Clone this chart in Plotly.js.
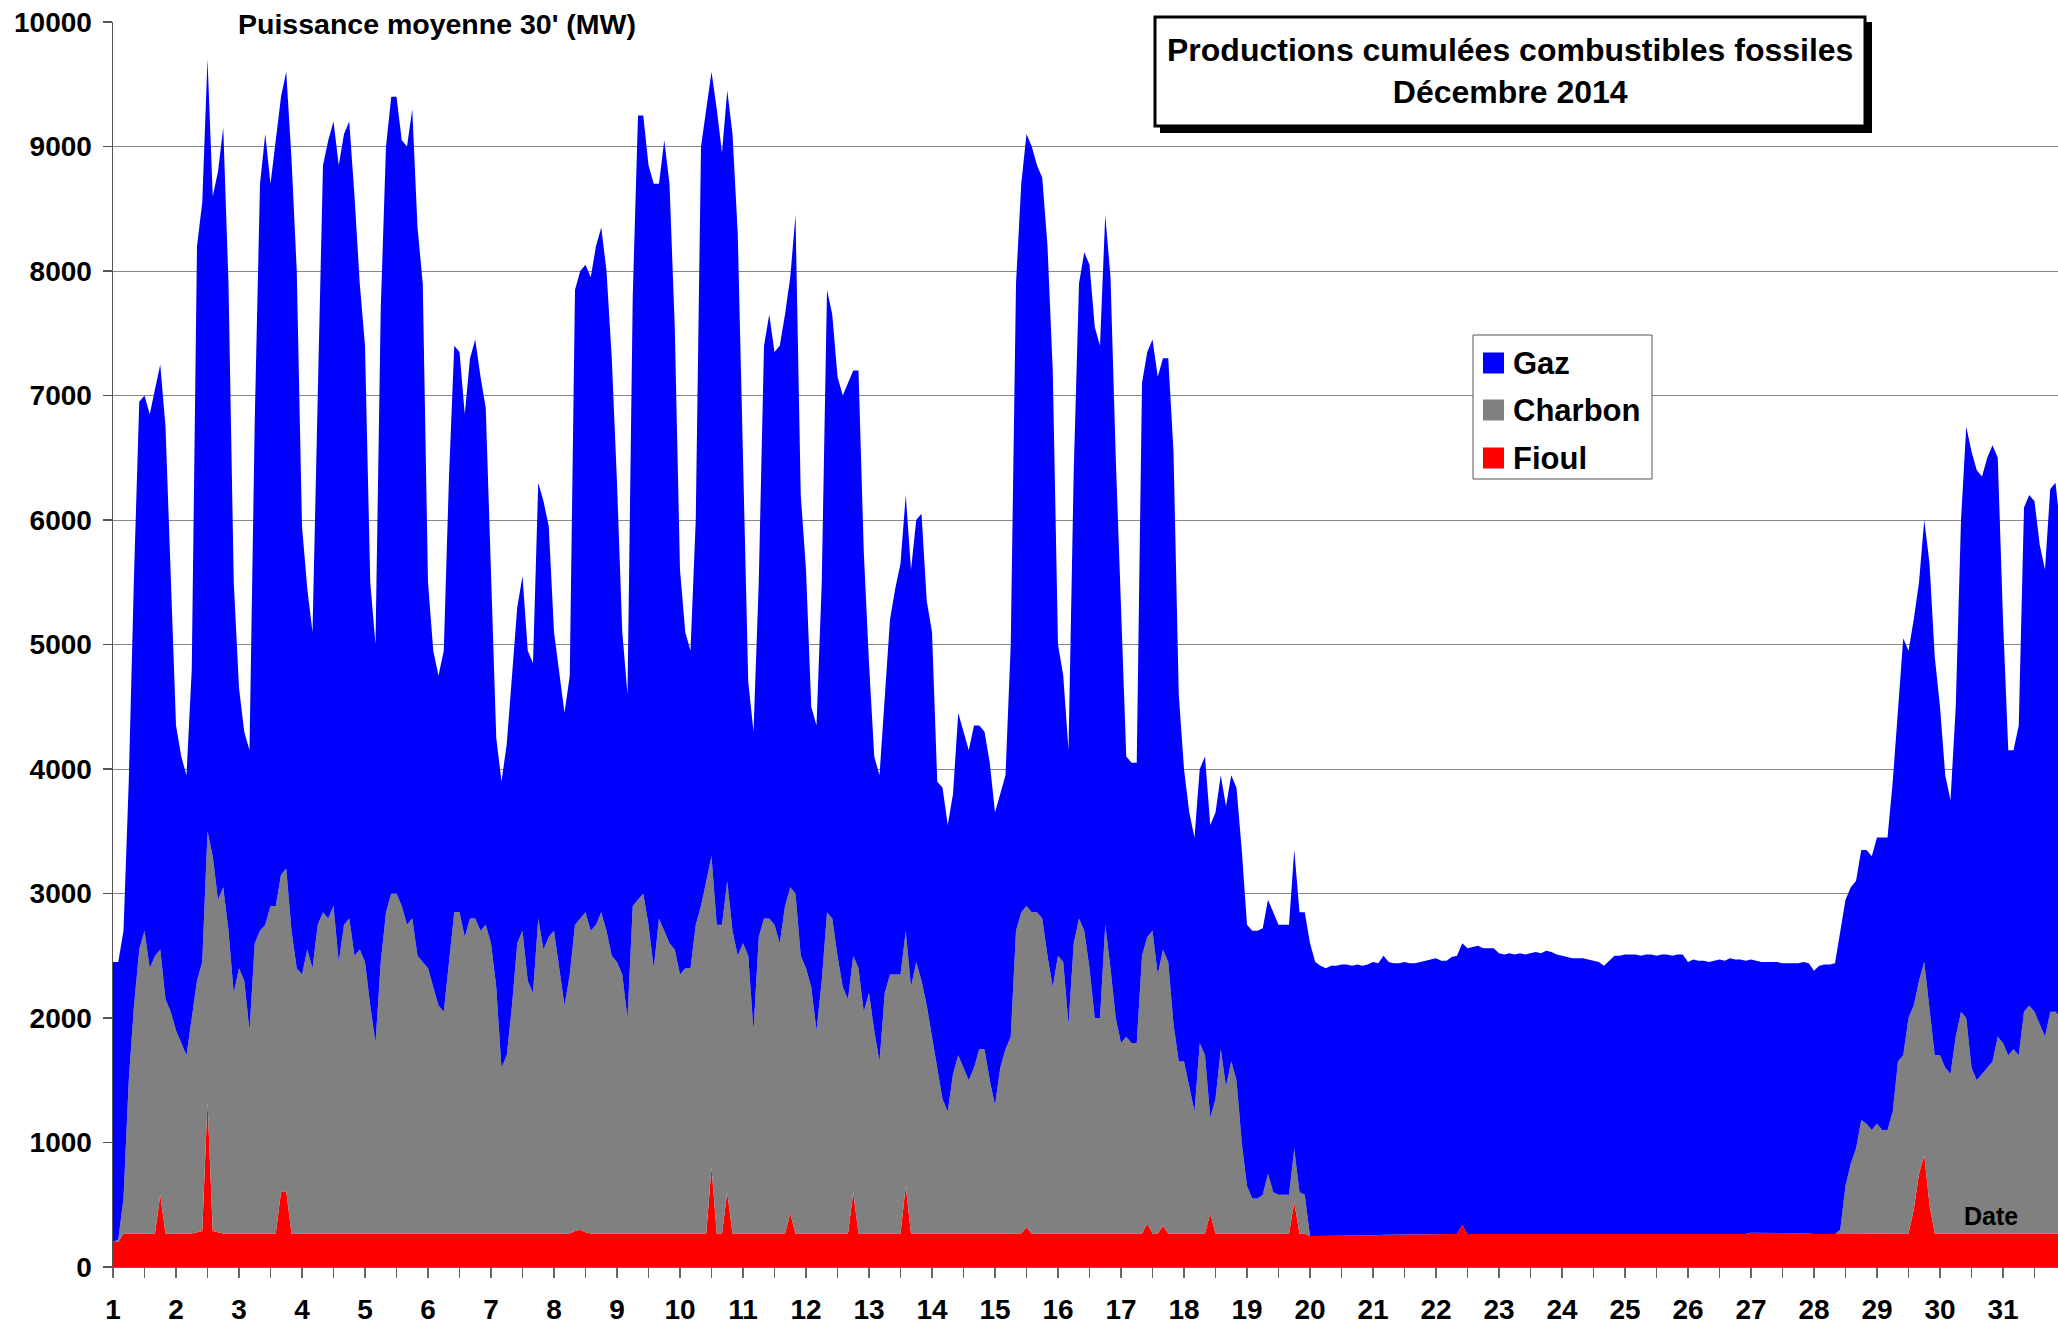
<!DOCTYPE html>
<html>
<head>
<meta charset="utf-8">
<script src="https://cdn.plot.ly/plotly-3.0.1.min.js"></script>
<style>html,body{margin:0;padding:0;background:#fff;}#chart{width:2058px;height:1326px;}</style>
</head>
<body>
<div id="chart"></div>
<script>
// Libellés des jours (axe des abscisses)
const jours = ['1','2','3','4','5','6','7','8','9','10','11','12','13','14','15','16','17','18','19','20','21','22','23','24','25','26','27','28','29','30','31'];
const pasHeures = 2; // une valeur toutes les 2 heures

// Niveau cumulé : Fioul + Charbon + Gaz (MW)
const cumulTotal = [
 2450,2450,2700,3900,5550,6950,7000,6850,7050,7250,6750,5500,
 4350,4100,3950,4800,8200,8550,9700,8600,8800,9150,7900,5500,
 4650,4300,4150,6800,8700,9100,8700,9050,9400,9600,8900,8000,
 5950,5450,5100,7000,8850,9050,9200,8850,9100,9200,8600,7900,
 7400,5500,5000,7700,9000,9400,9400,9050,9000,9300,8350,7900,
 5500,4950,4750,4950,6350,7400,7350,6850,7300,7450,7150,6900,
 5600,4250,3900,4200,4750,5300,5550,4950,4850,6300,6150,5950,
 5100,4750,4450,4750,7850,8000,8050,7950,8200,8350,8000,7300,
 6300,5100,4600,7800,9250,9250,8850,8700,8700,9050,8700,7550,
 5600,5100,4950,6000,9000,9300,9600,9300,8950,9450,9100,8300,
 6500,4700,4300,5500,7400,7650,7350,7400,7650,7950,8450,6200,
 5600,4500,4350,5500,7850,7650,7150,7000,7100,7200,7200,5750,
 4850,4100,3950,4550,5200,5450,5650,6200,5600,6000,6050,5350,
 5100,3900,3850,3550,3800,4450,4300,4150,4350,4350,4300,4050,
 3650,3800,3950,5000,7900,8700,9100,9000,8850,8750,8200,7200,
 5000,4750,4150,6400,7900,8150,8050,7550,7400,8450,7950,6500,
 5300,4100,4050,4050,7100,7350,7450,7150,7300,7300,6550,4600,
 4000,3650,3450,4000,4100,3550,3650,3950,3700,3950,3850,3350,
 2750,2700,2700,2720,2950,2850,2750,2750,2750,3350,2850,2850,
 2600,2450,2420,2400,2420,2420,2430,2430,2420,2430,2420,2430,
 2450,2440,2500,2450,2440,2440,2450,2440,2440,2450,2460,2470,
 2480,2460,2460,2490,2500,2600,2560,2570,2580,2560,2560,2560,
 2520,2510,2520,2510,2520,2510,2520,2530,2520,2540,2530,2510,
 2500,2490,2480,2480,2480,2470,2460,2450,2420,2460,2500,2500,
 2510,2510,2510,2500,2510,2510,2500,2510,2510,2500,2510,2510,
 2450,2470,2460,2460,2450,2460,2470,2460,2480,2470,2470,2460,
 2470,2460,2450,2450,2450,2450,2440,2440,2440,2440,2450,2440,
 2380,2420,2430,2430,2440,2700,2950,3050,3100,3350,3350,3300,
 3450,3450,3450,3900,4500,5050,4950,5200,5500,6000,5650,4900,
 4500,3950,3750,4500,6000,6750,6550,6400,6350,6500,6600,6500,
 5200,4150,4150,4350,6100,6200,6150,5800,5600,6250,6300,5900
];

// Niveau cumulé : Fioul + Charbon (MW)
const cumulCharbon = [
 200,220,550,1500,2100,2550,2700,2400,2500,2550,2150,2050,
 1900,1800,1700,2000,2300,2450,3500,3300,2950,3050,2700,2200,
 2400,2300,1900,2600,2700,2750,2900,2900,3150,3200,2700,2400,
 2350,2550,2400,2750,2850,2800,2900,2450,2750,2800,2500,2550,
 2450,2100,1800,2450,2850,3000,3000,2900,2750,2800,2500,2450,
 2400,2250,2100,2050,2450,2850,2850,2650,2800,2800,2700,2750,
 2600,2250,1600,1700,2100,2600,2700,2300,2200,2800,2550,2650,
 2700,2400,2100,2350,2750,2800,2850,2700,2750,2850,2700,2500,
 2450,2350,2000,2900,2950,3000,2750,2400,2800,2700,2600,2550,
 2350,2400,2400,2750,2900,3100,3300,2750,2750,3100,2700,2500,
 2600,2500,1900,2650,2800,2800,2750,2600,2900,3050,3000,2500,
 2400,2250,1900,2300,2850,2800,2500,2250,2150,2500,2400,2050,
 2200,1900,1650,2200,2350,2350,2350,2700,2250,2450,2300,2100,
 1850,1600,1350,1250,1550,1700,1600,1500,1600,1750,1750,1500,
 1300,1600,1750,1850,2700,2850,2900,2850,2850,2800,2500,2250,
 2500,2450,1950,2600,2800,2700,2400,2000,2000,2750,2400,2000,
 1800,1850,1800,1800,2500,2650,2700,2350,2550,2450,1950,1650,
 1650,1450,1250,1800,1700,1200,1350,1750,1450,1650,1500,1000,
 650,550,550,580,750,600,580,580,580,950,600,580,
 250,250,250,250,250,250,250,250,250,250,250,250,
 255,255,260,260,260,260,260,265,265,265,265,265,
 265,265,265,265,265,340,265,265,265,265,265,265,
 265,265,265,265,265,265,265,265,265,265,265,265,
 265,265,265,265,265,265,265,265,265,265,265,265,
 265,265,265,265,265,265,265,265,265,265,265,265,
 265,265,265,265,265,265,265,265,265,265,265,265,
 275,275,275,275,275,275,275,275,275,275,270,270,
 265,265,265,265,265,300,650,830,950,1180,1150,1100,
 1150,1100,1100,1250,1650,1700,2000,2100,2300,2450,2100,1700,
 1700,1600,1550,1850,2050,2000,1600,1500,1550,1600,1650,1850,
 1800,1700,1750,1700,2050,2100,2050,1950,1850,2050,2050,2000
];

// Fioul (MW)
const fioul = [
 200,200,270,270,270,270,270,270,270,580,270,270,
 270,270,270,270,280,290,1330,290,280,270,270,270,
 270,270,270,270,270,270,270,270,600,610,270,270,
 270,270,270,270,270,270,270,270,270,270,270,270,
 270,270,270,270,270,270,270,270,270,270,270,270,
 270,270,270,270,270,270,270,270,270,270,270,270,
 270,270,270,270,270,270,270,270,270,270,270,270,
 270,270,270,270,290,300,280,270,270,270,270,270,
 270,270,270,270,270,270,270,270,270,270,270,270,
 270,270,270,270,270,270,800,270,270,600,270,270,
 270,270,270,270,270,270,270,270,270,430,270,270,
 270,270,270,270,270,270,270,270,270,600,270,270,
 270,270,270,270,270,270,270,650,270,270,270,270,
 270,270,270,270,270,270,270,270,270,270,270,270,
 270,270,270,270,270,270,320,270,270,270,270,270,
 270,270,270,270,270,270,270,270,270,270,270,270,
 270,270,270,270,270,350,270,270,330,270,270,270,
 270,270,270,270,270,430,270,270,270,270,270,270,
 270,270,270,270,270,270,270,270,270,520,270,270,
 250,250,250,250,250,250,250,250,250,250,250,250,
 255,255,260,260,260,260,260,265,265,265,265,265,
 265,265,265,265,265,340,265,265,265,265,265,265,
 265,265,265,265,265,265,265,265,265,265,265,265,
 265,265,265,265,265,265,265,265,265,265,265,265,
 265,265,265,265,265,265,265,265,265,265,265,265,
 265,265,265,265,265,265,265,265,265,265,265,265,
 275,275,275,275,275,275,275,275,275,275,270,270,
 265,265,265,265,265,265,265,265,265,265,265,265,
 270,270,270,270,270,270,270,460,750,900,500,270,
 270,270,270,270,270,270,270,270,270,270,270,270,
 270,270,270,270,270,270,270,270,270,270,270,270
];

const seriesNames = ['Gaz','Charbon','Fioul'];
const seriesColors = ['#0000FF','#808080','#FF0000'];

// Temps (en jours, 1 = 1er décembre 00h00)
const temps = cumulTotal.map((_, i) => 1 + i * pasHeures / 24);

// ---- mise en page (pixels) ----
const W = 2058, H = 1326, L = 113, R = 2058, T = 22, B = 1267;
const fx = p => (p - L) / (R - L);
const fy = p => (B - p) / (B - T);
const FONT = 'Liberation Sans, Arial, Helvetica, sans-serif';

const traces = [
  {x: temps, y: fioul, name: 'Fioul', type: 'scatter', mode: 'lines', fill: 'tozeroy',
   fillcolor: seriesColors[2], line: {width: 0, color: seriesColors[2]}, showlegend: false},
  {x: temps, y: cumulCharbon, name: 'Charbon', type: 'scatter', mode: 'lines', fill: 'tonexty',
   fillcolor: seriesColors[1], line: {width: 0, color: seriesColors[1]}, showlegend: false},
  {x: temps, y: cumulTotal, name: 'Gaz', type: 'scatter', mode: 'lines', fill: 'tonexty',
   fillcolor: seriesColors[0], line: {width: 0, color: seriesColors[0]}, showlegend: false}
];

const tickvals = [], ticktext = [];
jours.forEach((j, i) => { tickvals.push(i + 1, i + 1.5); ticktext.push(j, ''); });

const shapes = [
  // ombre + cadre du titre
  {type: 'rect', xref: 'paper', yref: 'paper', x0: fx(1160), x1: fx(1872), y0: fy(133), y1: fy(22),
   fillcolor: '#000', line: {width: 0}, layer: 'above'},
  {type: 'rect', xref: 'paper', yref: 'paper', x0: fx(1155), x1: fx(1865), y0: fy(126), y1: fy(17),
   fillcolor: '#fff', line: {width: 3, color: '#000'}, layer: 'above'},
  // cadre de la légende
  {type: 'rect', xref: 'paper', yref: 'paper', x0: fx(1473), x1: fx(1652), y0: fy(479), y1: fy(335),
   fillcolor: '#fff', line: {width: 1, color: '#555'}, layer: 'above'}
];
const annotations = [
  {xref: 'paper', yref: 'paper', x: fx(1510), y: fy(71), xanchor: 'center', yanchor: 'middle',
   text: 'Productions cumulées combustibles fossiles<br>Décembre 2014', showarrow: false,
   font: {family: FONT, size: 32, color: '#000', weight: 'bold'}},
  {xref: 'paper', yref: 'paper', x: fx(437), y: fy(24), xanchor: 'center', yanchor: 'middle',
   text: "Puissance moyenne 30' (MW)", showarrow: false, bgcolor: '#fff', borderpad: 5,
   font: {family: FONT, size: 28.5, color: '#000', weight: 'bold'}},
  {xref: 'paper', yref: 'paper', x: fx(1991), y: fy(1216), xanchor: 'center', yanchor: 'middle',
   text: 'Date', showarrow: false, font: {family: FONT, size: 25, color: '#000', weight: 'bold'}}
];
const legendY = [363, 410, 458];
seriesNames.forEach((n, i) => {
  shapes.push({type: 'rect', xref: 'paper', yref: 'paper', x0: fx(1483), x1: fx(1504),
    y0: fy(legendY[i] + 10.5), y1: fy(legendY[i] - 10.5), fillcolor: seriesColors[i],
    line: {width: 0}, layer: 'above'});
  annotations.push({xref: 'paper', yref: 'paper', x: fx(1511), y: fy(legendY[i]), xanchor: 'left',
    yanchor: 'middle', text: n, showarrow: false,
    font: {family: FONT, size: 31, color: '#000', weight: 'bold'}});
});

const layout = {
  width: W, height: H,
  margin: {l: L, r: W - R, t: T, b: H - B, pad: 0},
  paper_bgcolor: '#fff', plot_bgcolor: '#fff',
  showlegend: false, hovermode: false,
  xaxis: {range: [1, 1 + (R - L) / 63], tickmode: 'array', tickvals: tickvals, ticktext: ticktext,
    ticks: 'outside', ticklen: 10, tickcolor: '#666', tickwidth: 1.5, showgrid: false, zeroline: false,
    showline: true, linecolor: '#666', linewidth: 1, ticklabelstandoff: 7,
    tickfont: {family: FONT, size: 28, color: '#000', weight: 'bold'}},
  yaxis: {range: [0, 10000], dtick: 1000, tick0: 0, tickformat: 'd', ticks: 'outside', ticklen: 9,
    tickcolor: '#555', tickwidth: 1.5, showgrid: true, gridcolor: '#888', gridwidth: 1, zeroline: false,
    showline: true, linecolor: '#555', linewidth: 1.5, ticklabelstandoff: 5,
    tickfont: {family: FONT, size: 28, color: '#000', weight: 'bold'}},
  shapes: shapes, annotations: annotations,
  font: {family: FONT}
};

Plotly.newPlot('chart', traces, layout, {staticPlot: true, displayModeBar: false});
</script>
</body>
</html>
